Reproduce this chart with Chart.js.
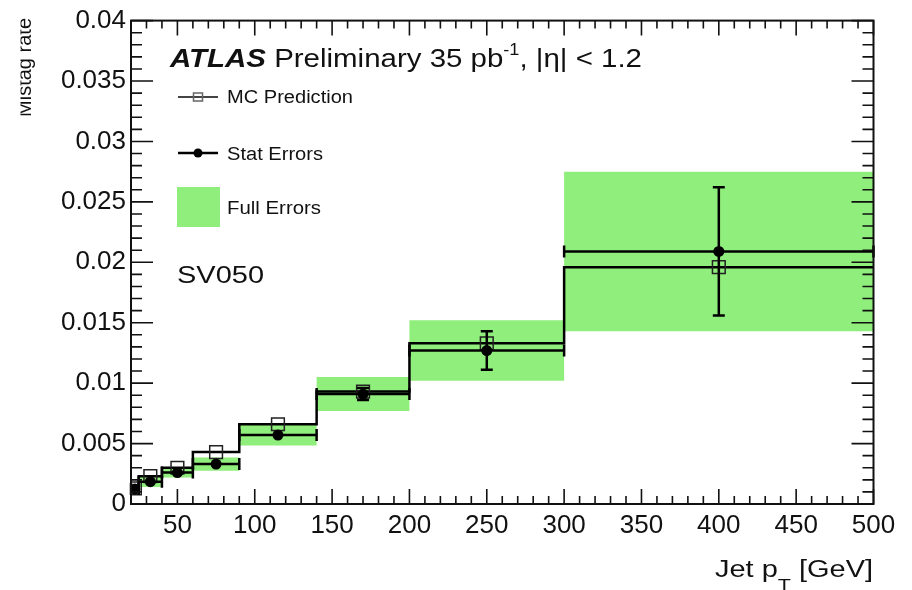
<!DOCTYPE html>
<html>
<head>
<meta charset="utf-8">
<title>Mistag rate vs jet pT</title>
<script src="https://cdn.jsdelivr.net/npm/chart.js@4.4.0/dist/chart.umd.min.js"></script>
<style>
    html, body { margin: 0; padding: 0; background: #fff; }
    #wrap { width: 912px; height: 590px; }
</style>
</head>
<body>
<div id="wrap"><canvas id="mistag" width="912" height="590"></canvas></div>
<script>
// bins in jet pT [GeV]
const binEdges = [20, 25, 40, 60, 90, 140, 200, 300, 500];
const binCenters = [22.5, 32.5, 50, 75, 115, 170, 250, 400];

// mistag rates
const mcRate = [0.0013, 0.0023, 0.0030, 0.0043, 0.0066, 0.0093, 0.0133, 0.0196];
const dataRate = [0.00125, 0.00185, 0.0026, 0.0033, 0.0057, 0.0091, 0.0127, 0.0209];
const statErr = [0.0001, 0.0001, 0.0001, 0.0001, 0.0001, 0.0005, 0.0016, 0.0053];
const fullErr = [0.0003, 0.00045, 0.0004, 0.00055, 0.00085, 0.0014, 0.0025, 0.0066];

const xTicks = [50, 100, 150, 200, 250, 300, 350, 400, 450, 500];
const yTicks = [0, 0.005, 0.01, 0.015, 0.02, 0.025, 0.03, 0.035, 0.04];
const yTickLabels = ['0', '0.005', '0.01', '0.015', '0.02', '0.025', '0.03', '0.035', '0.04'];

const FONT = '"Liberation Sans", Arial, Helvetica, sans-serif';
const green = '#90ee7c';

// histogram style points: value held from left edge to next edge
function histPoints(vals) {
    const pts = vals.map((v, i) => ({ x: binEdges[i], y: v }));
    pts.push({ x: binEdges[binEdges.length - 1], y: vals[vals.length - 1] });
    return pts;
}
const bandHi = dataRate.map((v, i) => v + fullErr[i]);
const bandLo = dataRate.map((v, i) => v - fullErr[i]);

// draw a run of text pieces squeezed/stretched to a given width
function drawPieces(ctx, pieces, x, y, width) {
    let nat = 0;
    pieces.forEach(p => { ctx.font = p.font; p.w = ctx.measureText(p.text).width; nat += p.w; });
    const sx = width ? width / nat : 1;
    ctx.save();
    ctx.translate(x, y);
    ctx.scale(sx, 1);
    ctx.textAlign = 'left';
    ctx.textBaseline = 'alphabetic';
    let cx = 0;
    pieces.forEach(p => {
        ctx.font = p.font;
        ctx.fillText(p.text, cx, p.dy || 0);
        cx += p.w;
    });
    ctx.restore();
}

const rootFrame = {
    id: 'rootFrame',
    afterDatasetsDraw(chart) {
        const ctx = chart.ctx, xs = chart.scales.x, ys = chart.scales.y;
        ctx.save();
        ctx.strokeStyle = '#000';
        ctx.lineWidth = 2.5;
        binCenters.forEach((c, i) => {
            const x0 = xs.getPixelForValue(binEdges[i]);
            const x1 = xs.getPixelForValue(binEdges[i + 1]);
            const xc = xs.getPixelForValue(c);
            const y = ys.getPixelForValue(dataRate[i]);
            const yh = ys.getPixelForValue(dataRate[i] + statErr[i]);
            const yl = ys.getPixelForValue(dataRate[i] - statErr[i]);
            ctx.beginPath();
            ctx.moveTo(x0, y); ctx.lineTo(x1, y);
            ctx.moveTo(x0, y - 6); ctx.lineTo(x0, y + 6);
            ctx.moveTo(x1, y - 6); ctx.lineTo(x1, y + 6);
            if (yl - yh > 8) {
                ctx.moveTo(xc, yh); ctx.lineTo(xc, yl);
                ctx.moveTo(xc - 6, yh); ctx.lineTo(xc + 6, yh);
                ctx.moveTo(xc - 6, yl); ctx.lineTo(xc + 6, yl);
            }
            ctx.stroke();
        });
        ctx.restore();
    },
    afterDraw(chart) {
        const ctx = chart.ctx, xs = chart.scales.x, ys = chart.scales.y;
        const a = chart.chartArea;
        ctx.save();
        ctx.strokeStyle = '#111';

        // ticks on all four sides, pointing in
        ctx.lineWidth = 1.6;
        ctx.beginPath();
        for (let v = 20; v <= 500; v += 10) {
            const x = xs.getPixelForValue(v);
            const len = v % 50 === 0 ? 15 : 8;
            ctx.moveTo(x, a.bottom); ctx.lineTo(x, a.bottom - len);
            ctx.moveTo(x, a.top); ctx.lineTo(x, a.top + len);
        }
        for (let k = 0; k <= 40; k++) {
            const y = ys.getPixelForValue(k * 0.001);
            const len = k % 5 === 0 ? 22 : 11;
            ctx.moveTo(a.left, y); ctx.lineTo(a.left + len, y);
            ctx.moveTo(a.right, y); ctx.lineTo(a.right - len, y);
        }
        ctx.stroke();

        ctx.lineWidth = 2;
        ctx.strokeRect(a.left, a.top, a.right - a.left, a.bottom - a.top);

        ctx.fillStyle = '#111';
        // ATLAS label
        drawPieces(ctx, [
            { text: 'ATLAS', font: 'italic bold 26px ' + FONT },
            { text: ' Preliminary 35 pb', font: '26px ' + FONT },
            { text: '-1', font: '16px ' + FONT, dy: -12 },
            { text: ', |\u03B7| < 1.2', font: '26px ' + FONT }
        ], 170, 67, 472);

        // legend
        ctx.strokeStyle = '#444';
        ctx.lineWidth = 2;
        ctx.beginPath();
        ctx.moveTo(178, 97); ctx.lineTo(218, 97);
        ctx.stroke();
        ctx.strokeStyle = '#666';
        ctx.lineWidth = 1.5;
        ctx.strokeRect(193.5, 93, 9, 8);

        ctx.strokeStyle = '#000';
        ctx.lineWidth = 2.5;
        ctx.beginPath();
        ctx.moveTo(178, 153); ctx.lineTo(218, 153);
        ctx.stroke();
        ctx.fillStyle = '#000';
        ctx.beginPath();
        ctx.arc(198, 153, 4.5, 0, Math.PI * 2);
        ctx.fill();

        ctx.fillStyle = green;
        ctx.fillRect(177, 187, 43, 40);

        ctx.fillStyle = '#111';
        drawPieces(ctx, [{ text: 'MC Prediction', font: '18px ' + FONT }], 227, 103, 126);
        drawPieces(ctx, [{ text: 'Stat Errors', font: '18px ' + FONT }], 227, 160, 96);
        drawPieces(ctx, [{ text: 'Full Errors', font: '18px ' + FONT }], 227, 214, 94);

        drawPieces(ctx, [{ text: 'SV050', font: '24px ' + FONT }], 177, 283, 87);

        // axis titles
        drawPieces(ctx, [
            { text: 'Jet p', font: '23px ' + FONT },
            { text: 'T', font: '17px ' + FONT, dy: 14 },
            { text: ' [GeV]', font: '23px ' + FONT }
        ], 715, 577, 158);

        // y title, cut at the left like in the original scan
        ctx.save();
        ctx.beginPath();
        ctx.rect(20.5, 0, 60, 200);
        ctx.clip();
        ctx.translate(31, 18);
        ctx.rotate(-Math.PI / 2);
        ctx.font = '20px ' + FONT;
        ctx.textAlign = 'right';
        ctx.fillText('Mistag rate', 0, 0);
        ctx.restore();

        ctx.restore();
    }
};

const ctx = document.getElementById('mistag').getContext('2d');
const chart = new Chart(ctx, {
    type: 'line',
    data: {
        datasets: [
            {
                label: 'Stat Errors',
                data: binCenters.map((x, i) => ({ x: x, y: dataRate[i] })),
                showLine: false,
                pointStyle: 'circle',
                pointRadius: 5.5,
                pointBackgroundColor: '#000',
                pointBorderWidth: 0
            },
            {
                label: 'MC Prediction',
                data: binCenters.map((x, i) => ({ x: x, y: mcRate[i] })),
                showLine: false,
                pointStyle: 'rect',
                pointRadius: 9,
                pointBorderColor: '#222',
                pointBorderWidth: 1.5,
                pointBackgroundColor: 'rgba(0,0,0,0)'
            },
            {
                label: 'MC hist',
                data: histPoints(mcRate),
                stepped: true,
                borderColor: '#000',
                borderWidth: 2.5,
                pointRadius: 0,
                fill: false
            },
            {
                label: 'Full hi',
                data: histPoints(bandHi),
                stepped: true,
                borderColor: 'rgba(0,0,0,0)',
                borderWidth: 1,
                pointRadius: 0,
                fill: false
            },
            {
                label: 'Full Errors',
                data: histPoints(bandLo),
                stepped: true,
                borderColor: 'rgba(0,0,0,0)',
                borderWidth: 1,
                pointRadius: 0,
                backgroundColor: green,
                fill: '-1'
            }
        ]
    },
    options: {
        responsive: false,
        animation: false,
        events: [],
        layout: { padding: { left: 0, top: 20.5, right: 38.5, bottom: 0 } },
        plugins: {
            legend: { display: false },
            tooltip: { enabled: false }
        },
        scales: {
            x: {
                type: 'linear',
                min: 20,
                max: 500,
                grid: { display: false, drawTicks: false },
                border: { display: false },
                afterBuildTicks: scale => { scale.ticks = xTicks.map(v => ({ value: v })); },
                afterFit: scale => { scale.height = 86; },
                ticks: {
                    padding: 6,
                    maxRotation: 0,
                    autoSkip: false,
                    color: '#111',
                    font: { family: FONT, size: 26 },
                    callback: v => String(v)
                }
            },
            y: {
                type: 'linear',
                min: 0,
                max: 0.04,
                grid: { display: false, drawTicks: false },
                border: { display: false },
                afterBuildTicks: scale => { scale.ticks = yTicks.map(v => ({ value: v })); },
                afterFit: scale => { scale.width = 131; },
                ticks: {
                    padding: 5,
                    autoSkip: false,
                    color: '#111',
                    font: { family: FONT, size: 26 },
                    callback: (v, i) => yTickLabels[i]
                }
            }
        }
    },
    plugins: [rootFrame]
});
</script>
</body>
</html>
